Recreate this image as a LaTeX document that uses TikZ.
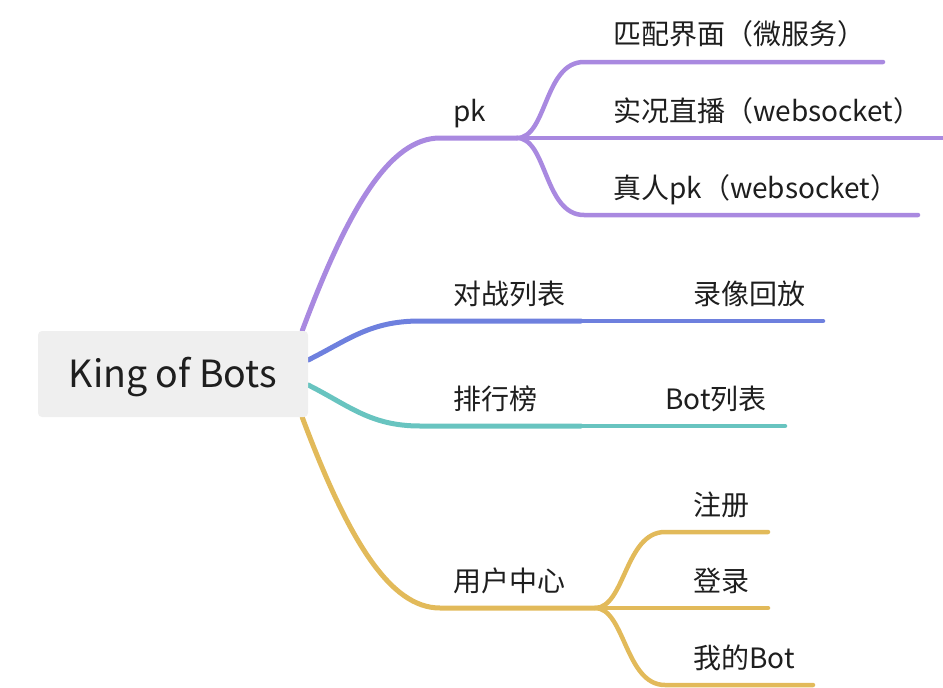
\documentclass[tikz,border=0pt]{standalone}
\usepackage{fontspec}
\setmainfont{Noto Sans CJK SC}
\usetikzlibrary{positioning,calc,backgrounds}
\definecolor{pkcol}{RGB}{169,137,224}
\definecolor{vscol}{RGB}{110,128,222}
\definecolor{rkcol}{RGB}{104,196,192}
\definecolor{uscol}{RGB}{226,186,90}
\definecolor{rootbg}{RGB}{239,239,239}
\definecolor{txtcol}{RGB}{30,30,30}
\tikzset{
  rootbox/.style={fill=rootbg, rounded corners=4pt, minimum width=270pt,
                  minimum height=86pt, inner sep=0pt, text height=30pt,
                  text depth=4pt, text=txtcol, font=\fontsize{37.5}{40}\selectfont},
  topic/.style  ={anchor=base west, inner sep=0pt, text=txtcol,
                  font=\fontsize{28}{30}\selectfont},
  mainbr/.style ={line width=5pt, line cap=round, draw=#1},
  subbr/.style  ={line width=4.5pt, line cap=round, draw=#1},
}

\begin{document}
\begin{tikzpicture}[x=1pt, y=-1pt]
\useasboundingbox (0,0) rectangle (943,688);

%% Root
\node[rootbox] (root) at (173,374) {King of Bots};

%% Branch points
\coordinate (pkS) at ($(root.north east)+(-6,0)$);
\coordinate (vsS) at ($(root.east)+(0,-14)$);
\coordinate (rkS) at ($(root.east)+(0,11)$);
\coordinate (usS) at ($(root.south east)+(-6,0)$);

\coordinate (pkL) at (440,138);  \coordinate (pkF) at (517,138);
\coordinate (mpL) at (584,62);   \coordinate (mpR) at (883,62);
\coordinate (lvR) at (943,138);
\coordinate (rpL) at (584,215);  \coordinate (rpR) at (918,215);

\coordinate (vsL) at (420,321);  \coordinate (vsF) at (581,321);
\coordinate (rcR) at (823,321);

\coordinate (rkL) at (420,426);  \coordinate (rkF) at (581,426);
\coordinate (blR) at (785,426);

\coordinate (usL) at (440,608);  \coordinate (usF) at (595,608);
\coordinate (rgL) at (665,532);  \coordinate (rgR) at (768,532);
\coordinate (lgR) at (768,608);
\coordinate (mbL) at (665,685);  \coordinate (mbR) at (813,685);

%% Labels
\node[topic] (pk)   at (453,121) {pk};
\node[topic] (mp)   at (613,45)  {匹配界面（微服务）};
\node[topic] (lv)   at (613,121) {实况直播（websocket）};
\node[topic] (rp)   at (613,198) {真人pk（websocket）};
\node[topic] (vs)   at (453,304) {对战列表};
\node[topic] (rc)   at (693,304) {录像回放};
\node[topic] (rk)   at (453,409) {排行榜};
\node[topic] (bl)   at (665,409) {Bot列表};
\node[topic] (us)   at (453,591) {用户中心};
\node[topic] (rg)   at (693,515) {注册};
\node[topic] (lg)   at (693,591) {登录};
\node[topic] (mb)   at (693,668) {我的Bot};

%% Branches
\begin{scope}[on background layer]
\draw[mainbr=pkcol] (pkS) .. controls +(46,-123) and +(-50,0) .. (pkL) -- (pkF);
\draw[subbr=pkcol]  (pkF) .. controls +(30,0) and +(-40,0) .. (mpL) -- (mpR);
\draw[subbr=pkcol]  (pkF) -- (lvR);
\draw[subbr=pkcol]  (pkF) .. controls +(30,0) and +(-40,0) .. (rpL) -- (rpR);

\draw[mainbr=vscol] (vsS) .. controls +(40,-20) and +(-50,0) .. (vsL) -- (vsF);
\draw[subbr=vscol]  (vsF) -- (rcR);

\draw[mainbr=rkcol] (rkS) .. controls +(40,20) and +(-50,0) .. (rkL) -- (rkF);
\draw[subbr=rkcol]  (rkF) -- (blR);

\draw[mainbr=uscol] (usS) .. controls +(46,123) and +(-50,0) .. (usL) -- (usF);
\draw[subbr=uscol]  (usF) .. controls +(30,0) and +(-40,0) .. (rgL) -- (rgR);
\draw[subbr=uscol]  (usF) -- (lgR);
\draw[subbr=uscol]  (usF) .. controls +(30,0) and +(-40,0) .. (mbL) -- (mbR);
\end{scope}

\end{tikzpicture}
\end{document}
